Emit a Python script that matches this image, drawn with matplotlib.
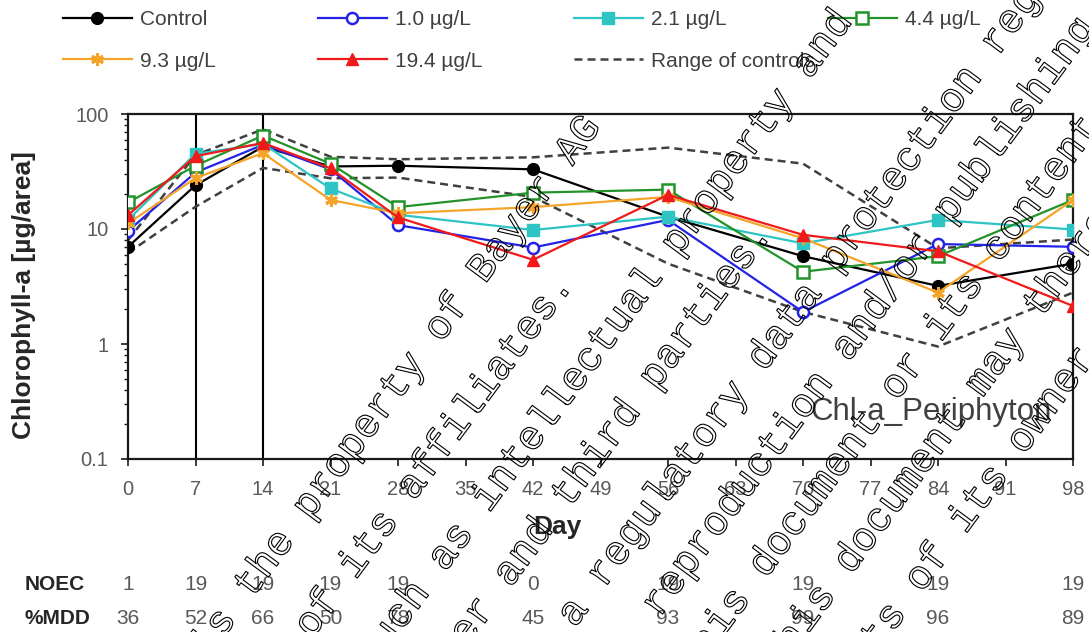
import numpy as np
import matplotlib
matplotlib.use("Agg")
import matplotlib.pyplot as plt
import matplotlib.patheffects as pe
from matplotlib.transforms import blended_transform_factory
from matplotlib.ticker import FixedLocator, FuncFormatter, LogLocator, NullFormatter

plt.rcParams["font.family"] = ["Liberation Sans", "DejaVu Sans"]

# ---- data -------------------------------------------------------------
days = [0, 7, 14, 21, 28, 42, 56, 70, 84, 98]
control = [7.0, 24.0, 52.0, 35.0, 35.5, 33.0, 12.8, 5.8, 3.2, 5.0]
conc_1_0 = [9.6, 31.0, 54.0, 33.0, 10.8, 6.9, 12.0, 1.9, 7.4, 7.0]
conc_2_1 = [12.0, 45.0, 55.0, 22.5, 13.3, 9.8, 12.8, 7.5, 12.0, 9.9]
conc_4_4 = [17.0, 35.5, 65.0, 37.0, 15.5, 20.7, 22.0, 4.25, 5.8, 17.9]
conc_9_3 = [11.2, 27.7, 45.7, 17.9, 13.7, 15.5, 19.0, 8.3, 2.8, 17.9]
conc_19_4 = [13.2, 43.0, 56.0, 33.7, 12.6, 5.4, 19.8, 8.9, 6.4, 2.14]
control_max = [8.0, 44.0, 73.6, 42.5, 40.4, 42.0, 51.0, 37.0, 6.8, 8.1]
control_min = [6.2, 15.6, 34.0, 27.6, 28.0, 19.0, 5.0, 1.9, 0.95, 2.8]

x_ticks = list(range(0, 99, 7))
noec = ["1", "19", "19", "19", "19", "0", "19", "19", "19", "19"]
mdd = ["36", "52", "66", "50", "78", "45", "93", "99", "96", "89"]

watermark_lines = [
    ("This document is the property of Bayer AG", 33.5, (483, 268)),
    ("and/or any or all of its affiliates.", 25.5, (412, 485)),
    ("It may be subject to rights such as intellectual property and", 36.5, (487, 497)),
    ("copyright of the owner and third parties.", 27.5, (567, 493)),
    ("It may be subject to a regulatory data protection regime.", 21.5, (573, 612)),
    ("Consequently, any publication, distribution, reproduction and/or publishing", 61.0, (883, 297)),
    ("and any commercial exploitation and use of this document or its content", 62.5, (968, 287)),
    ("without the permission of the owner of this document may therefore be", 54.5, (995, 362)),
    ("prohibited and violate the rights of its owner.", 43.5, (1051, 400)),
]

# ---- figure -----------------------------------------------------------
W, H = 1089, 632
fig = plt.figure(figsize=(W / 100, H / 100), dpi=100)
ax = fig.add_axes([128 / W, 1 - 459 / H, (1073 - 128) / W, (459 - 114) / H])

dash = (0, (3.2, 2.0))
lw = 1.6
h_min, = ax.plot(days, control_min, color="#404040", lw=1.8, ls=dash, zorder=2)
h_max, = ax.plot(days, control_max, color="#404040", lw=1.8, ls=dash, zorder=2,
                 label="Range of controls")

# series drawn in legend order, later ones on top
h_c, = ax.plot(days, control, color="black", lw=lw, marker="o", ms=8.5,
               mfc="black", mec="black", label="Control", zorder=3.0)
h_1, = ax.plot(days, conc_1_0, color="#2323E8", lw=lw, marker="o", ms=8,
               mfc="white", mec="#2323E8", mew=1.8, label="1.0 µg/L", zorder=3.1)
h_2, = ax.plot(days, conc_2_1, color="#2EC4C4", lw=lw, marker="s", ms=8,
               mfc="#2EC4C4", mec="#2EC4C4", label="2.1 µg/L", zorder=3.2)
h_4, = ax.plot(days, conc_4_4, color="#22922A", lw=lw, marker="s", ms=8,
               mfc="white", mec="#22922A", mew=1.8, label="4.4 µg/L", zorder=3.3)
h_9, = ax.plot(days, conc_9_3, color="#F5A42A", lw=lw, marker=(6, 2, 0), ms=9,
               mec="#F5A42A", mew=2.2, label="9.3 µg/L", zorder=3.4)
h_19, = ax.plot(days, conc_19_4, color="#F01A1A", lw=lw, marker="^", ms=8.5,
                mfc="#F01A1A", mec="#F01A1A", label="19.4 µg/L", zorder=3.5)

ax.axvline(7, color="black", lw=1.5, zorder=1)
ax.axvline(14, color="black", lw=1.5, zorder=1)

ax.set_yscale("log")
ax.set_ylim(0.1, 100)
ax.set_xlim(0, 98)
ax.xaxis.set_major_locator(FixedLocator(x_ticks))
ax.yaxis.set_major_locator(FixedLocator([0.1, 1, 10, 100]))
ax.yaxis.set_major_formatter(FuncFormatter(lambda v, p: f"{v:g}"))
ax.yaxis.set_minor_locator(LogLocator(base=10, subs=np.arange(2, 10)))
ax.yaxis.set_minor_formatter(NullFormatter())

for sp in ax.spines.values():
    sp.set_linewidth(1.6)
    sp.set_color("#1a1a1a")
ax.tick_params(axis="both", which="major", direction="out", length=5, width=1.2,
               labelsize=14.5, labelcolor="#595959", color="#1a1a1a")
ax.tick_params(axis="y", which="major", pad=9)
ax.tick_params(axis="x", which="major", pad=10)
ax.tick_params(axis="y", which="minor", direction="out", length=3, width=1.0,
               color="#1a1a1a")

ax.set_ylabel("Chlorophyll-a [µg/area]", fontsize=19, fontweight="bold",
              color="#262626")
ax.yaxis.label.set_va("center")
ax.yaxis.set_label_coords((24 - 128) / 945, 0.475)
ax.set_xlabel("Day", fontsize=19, fontweight="bold", color="#262626")
ax.xaxis.label.set_va("center")
ax.xaxis.set_label_coords((557 - 128) / 945, (459 - 527) / 345)

ax.text(0.978, 0.136, "Chl-a_Periphyton", transform=ax.transAxes, ha="right",
        va="center", fontsize=22.5, color="#404040")

# ---- legend, one block per column ----------------------------------------
columns = [([h_c, h_9], 63), ([h_1, h_19], 318), ([h_2, h_max], 574), ([h_4], 828)]
for handles, xpx in columns:
    fig.legend(handles=handles, loc="upper left",
               bbox_to_anchor=(xpx / W, 1 - 10 / H), frameon=False, fontsize=15,
               handlelength=3.3, handletextpad=0.4, borderpad=0,
               borderaxespad=0, labelspacing=1.09, labelcolor="#404040")

# ---- NOEC / %MDD rows under the axis --------------------------------------
row_tr = blended_transform_factory(ax.transData, fig.transFigure)
for label, vals, ypx in (("NOEC", noec, 584), ("%MDD", mdd, 619)):
    fig.text(25 / W, 1 - ypx / H, label, ha="left", va="center", fontsize=15,
             fontweight="bold", color="#262626")
    for dday, v in zip(days, vals):
        ax.text(dday, 1 - ypx / H, v, transform=row_tr, ha="center",
                va="center", fontsize=15, color="#595959", clip_on=False)

# ---- outlined diagonal notice ------------------------------------------
theta = 53.5
rad = np.deg2rad(theta)
along = np.array([np.cos(rad), -np.sin(rad)])
down = np.array([np.sin(rad), np.cos(rad)])
fs_wm = 29.4
em = fs_wm * 100 / 72
adv = 0.6 * em
for text, k, (cx, cy) in watermark_lines:
    base = np.array([cx, cy], float) + 0.28 * em * down - k * adv * along
    fig.text(base[0] / W, 1 - base[1] / H, text, rotation=theta,
             rotation_mode="anchor", ha="left", va="baseline",
             family="Liberation Mono", fontsize=fs_wm, color="none",
             path_effects=[pe.Stroke(linewidth=0.8, foreground="black")],
             zorder=10)

fig.savefig("out.png", dpi=100)
